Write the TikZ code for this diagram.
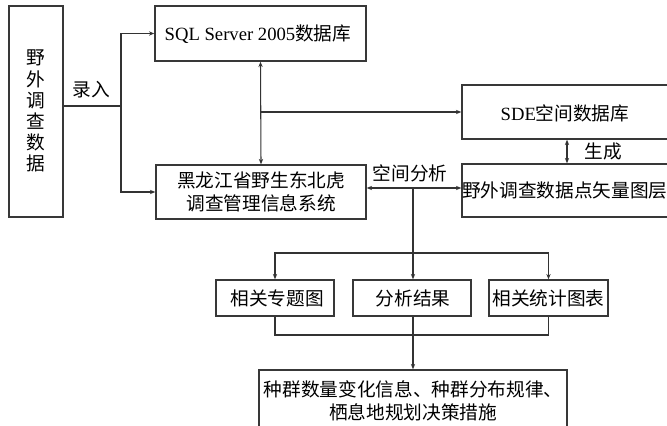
\documentclass[tikz,border=0pt]{standalone}
\usepackage{fontspec}
\setmainfont{Liberation Serif}
\newfontfamily\cjk{Noto Sans CJK SC}
\usetikzlibrary{arrows.meta}
\begin{document}
\begin{tikzpicture}[x=0.75pt,y=-0.75pt,
  box/.style={draw=black!78,line width=1.1pt,inner sep=0pt,font=\fontsize{14}{17}\selectfont},
  conn/.style={draw=black!80,line width=0.8pt},
  arr/.style={conn,-{Stealth[length=4pt,width=3.2pt]}},
  darr/.style={conn,{Stealth[length=4pt,width=3.2pt]}-{Stealth[length=4pt,width=3.2pt]}},
  lbl/.style={font=\fontsize{14}{17}\selectfont\cjk,inner sep=0pt}]
\useasboundingbox (0,0) rectangle (667,425);
\clip (0,0) rectangle (667,425);
% boxes
\node[box,minimum width=54*0.75pt,minimum height=211*0.75pt] (left) at (36,111.5) {};
\node[lbl,align=center,font=\fontsize{14}{15.8}\selectfont\cjk] at (36,111) {野\\外\\调\\查\\数\\据};
\node[box,minimum width=211*0.75pt,minimum height=55*0.75pt] (sql) at (260.5,33.5) {};
\node[inner sep=0pt,font=\fontsize{14}{17}\selectfont] at (258,34) {SQL Server 2005{\cjk 数据库}};
\node[box,minimum width=210*0.75pt,minimum height=54*0.75pt] (hlj) at (261,192) {};
\node[lbl,align=center,font=\fontsize{14}{17}\selectfont\cjk] at (261,192) {黑龙江省野生东北虎\\调查管理信息系统};
\node[box,minimum width=207*0.75pt,minimum height=54*0.75pt] (sde) at (565.5,112) {};
\node[inner sep=0pt,font=\fontsize{14}{17}\selectfont] at (565,113) {SDE{\cjk 空间数据库}};
\node[box,minimum width=207*0.75pt,minimum height=53*0.75pt] (vec) at (565.5,190.5) {};
\node[lbl,anchor=west] at (462,190) {野外调查数据点矢量图层};
\node[box,minimum width=118*0.75pt,minimum height=36*0.75pt] (b1) at (275,298) {};
\node[lbl] at (277,298) {相关专题图};
\node[box,minimum width=118*0.75pt,minimum height=36*0.75pt] (b2) at (412,298) {};
\node[lbl] at (413,298) {分析结果};
\node[box,minimum width=119*0.75pt,minimum height=36*0.75pt] (b3) at (548.5,298) {};
\node[lbl] at (548.5,298) {相关统计图表};
\node[box,minimum width=308*0.75pt,minimum height=60*0.75pt] (bot) at (413,400) {};
\node[lbl,align=center,font=\fontsize{14}{17.5}\selectfont\cjk] at (413,401) {种群数量变化信息、种群分布规律、\\栖息地规划决策措施};
% labels
\node[lbl] at (91,90) {录入};
\node[lbl] at (410,173) {空间分析};
\node[lbl] at (603,151) {生成};
% connectors
\coordinate (j) at (121,106);
\coordinate (m) at (261,112);
\coordinate (g) at (567,0);
\coordinate (sa) at (413,188);
\coordinate (br) at (413,253);
\coordinate (mg) at (413,335);
\draw[conn] (left.east |- j) -- (j);
\draw[arr] (j) |- (sql.west);
\draw[arr] (j) |- (hlj.west);
\draw[darr] (sql.south) -- (hlj.north);
\draw[arr] (m) -- (sde.west);
\draw[darr] (sde.south -| g) -- (vec.north -| g);
\draw[darr] (hlj.east |- sa) -- (vec.west |- sa);
\draw[conn] (sa) -- (br);
\draw[arr] (br) -| (b1.north);
\draw[arr] (br) -| (b3.north);
\draw[arr] (br) -- (b2.north -| br);
\draw[conn] (b1.south) |- (mg) -| (b3.south);
\draw[arr] (b2.south -| mg) -- (bot.north -| mg);
\end{tikzpicture}
\end{document}
